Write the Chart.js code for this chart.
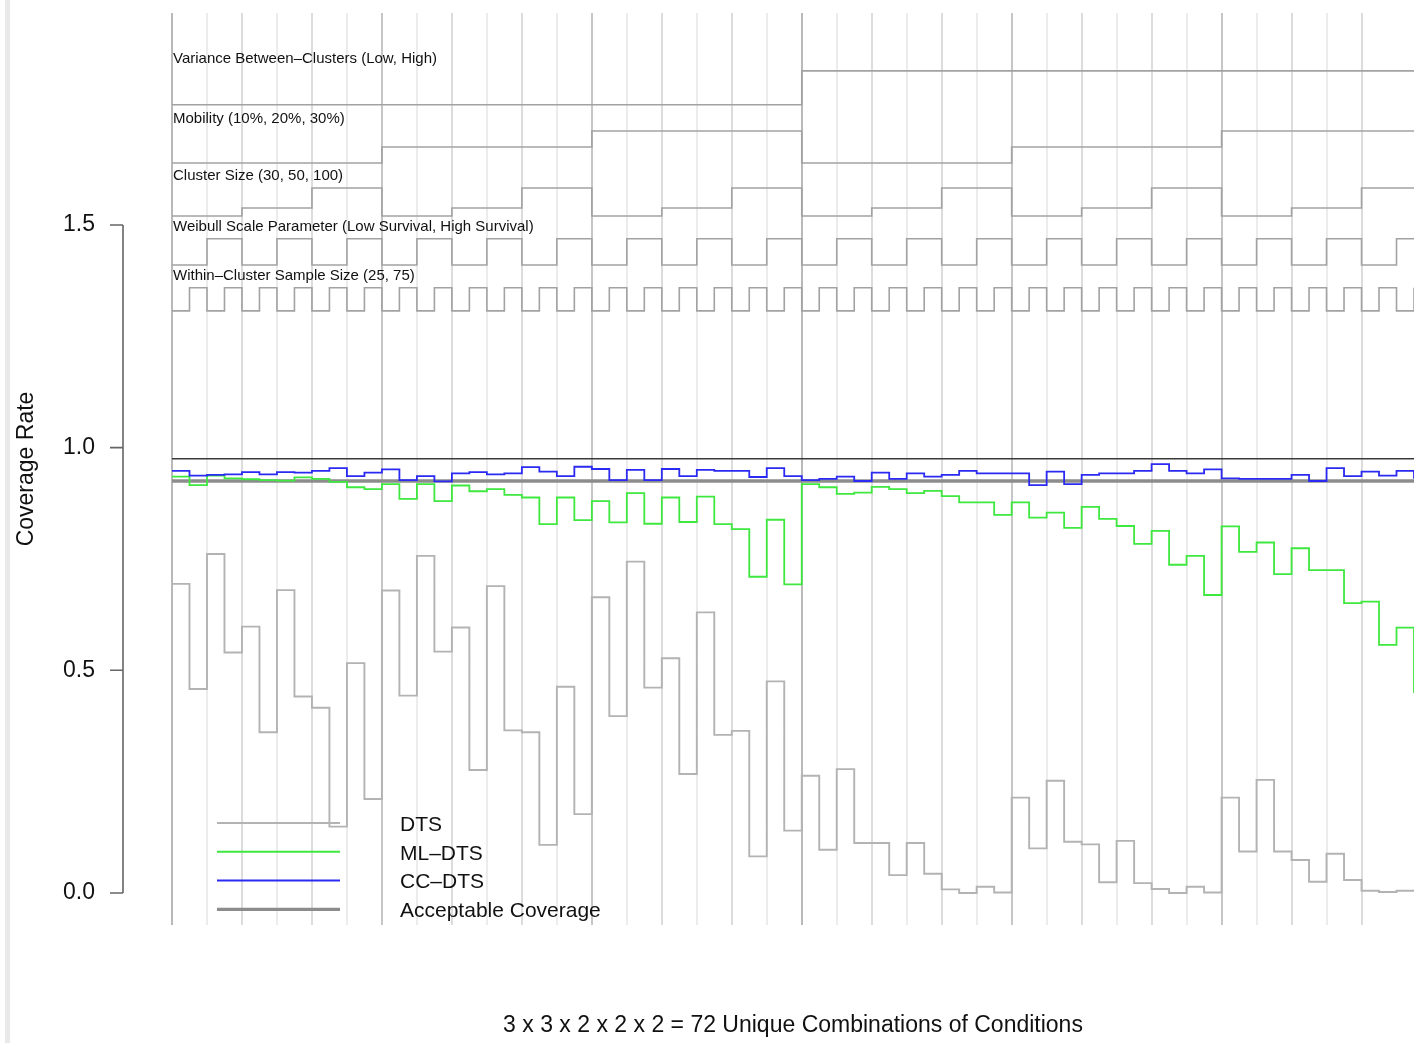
<!DOCTYPE html>
<html>
<head>
<meta charset="utf-8">
<script src="https://cdn.jsdelivr.net/npm/chart.js@4.4.1/dist/chart.umd.min.js"></script>
<style>
  html, body { margin: 0; padding: 0; background: #fff; }
  #wrap { position: relative; width: 1416px; height: 1043px; }
  #edge { position: absolute; left: 5px; top: 0; width: 5px; height: 1043px; background: #e9e9e9; }
  #c { position: absolute; left: 0; top: 0; }
</style>
</head>
<body>
<div id="wrap">
  <div id="edge"></div>
  <canvas id="c" width="1416" height="1043"></canvas>
</div>
<script>
// ---- Simulation design factors (outermost to innermost) ----
const varianceLevels    = [0, 1];               // Low, High
const mobilityLevels    = [10, 20, 30];         // percent
const clusterSizeLevels = [30, 50, 100];
const weibullLevels     = [0, 1];               // Low Survival, High Survival
const sampleSizeLevels  = [25, 75];

const factorLabels = [
  'Variance Between\u2013Clusters (Low, High)',
  'Mobility (10%, 20%, 30%)',
  'Cluster Size (30, 50, 100)',
  'Weibull Scale Parameter (Low Survival, High Survival)',
  'Within\u2013Cluster Sample Size (25, 75)'
];

// ---- Coverage rate per condition (72 conditions) ----
const dtsCoverage = [
  0.694, 0.458, 0.761, 0.540, 0.598, 0.361, 0.680, 0.441, 0.416, 0.149, 0.516, 0.211,
  0.679, 0.443, 0.757, 0.542, 0.596, 0.276, 0.689, 0.365, 0.361, 0.108, 0.463, 0.177,
  0.664, 0.397, 0.744, 0.461, 0.527, 0.267, 0.630, 0.355, 0.364, 0.082, 0.475, 0.140,
  0.263, 0.097, 0.278, 0.112, 0.112, 0.040, 0.112, 0.043, 0.008, 0.000, 0.014, 0.001,
  0.214, 0.100, 0.252, 0.115, 0.109, 0.024, 0.117, 0.022, 0.009, 0.000, 0.014, 0.001,
  0.214, 0.093, 0.254, 0.093, 0.074, 0.025, 0.088, 0.029, 0.005, 0.002, 0.005, 0.003
];
const mlDtsCoverage = [
  0.935, 0.916, 0.937, 0.931, 0.929, 0.927, 0.926, 0.933, 0.930, 0.923, 0.911, 0.907,
  0.918, 0.885, 0.918, 0.880, 0.915, 0.902, 0.907, 0.894, 0.888, 0.828, 0.888, 0.837,
  0.880, 0.832, 0.898, 0.829, 0.888, 0.833, 0.890, 0.828, 0.817, 0.710, 0.838, 0.693,
  0.918, 0.911, 0.896, 0.899, 0.912, 0.907, 0.898, 0.903, 0.891, 0.877, 0.877, 0.849,
  0.877, 0.843, 0.854, 0.820, 0.867, 0.840, 0.824, 0.784, 0.813, 0.737, 0.757, 0.669,
  0.823, 0.766, 0.787, 0.716, 0.774, 0.725, 0.725, 0.651, 0.654, 0.557, 0.596, 0.449
];
const ccDtsCoverage = [
  0.948, 0.937, 0.939, 0.940, 0.945, 0.940, 0.945, 0.944, 0.948, 0.954, 0.936, 0.944,
  0.951, 0.927, 0.936, 0.924, 0.942, 0.945, 0.940, 0.942, 0.956, 0.946, 0.936, 0.957,
  0.952, 0.927, 0.950, 0.927, 0.952, 0.936, 0.950, 0.948, 0.948, 0.934, 0.954, 0.936,
  0.927, 0.930, 0.935, 0.925, 0.944, 0.930, 0.942, 0.935, 0.939, 0.948, 0.942, 0.942,
  0.942, 0.916, 0.946, 0.918, 0.939, 0.942, 0.942, 0.948, 0.963, 0.948, 0.942, 0.951,
  0.931, 0.930, 0.930, 0.930, 0.939, 0.925, 0.954, 0.936, 0.946, 0.937, 0.948, 0.930
];

// Acceptable coverage band (lower, upper)
const acceptableBand = [0.925, 0.975];

const yTickValues = [0.0, 0.5, 1.0, 1.5];
const seriesNames = ['DTS', 'ML\u2013DTS', 'CC\u2013DTS', 'Acceptable Coverage'];
const xAxisTitle = '3 x 3 x 2 x 2 x 2 = 72 Unique Combinations of Conditions';
const yAxisTitle = 'Coverage Rate';

// ---- Full factorial: one entry per condition, in nesting order ----
const conditions = [];
varianceLevels.forEach(v => mobilityLevels.forEach(m => clusterSizeLevels.forEach(c =>
  weibullLevels.forEach(w => sampleSizeLevels.forEach(s =>
    conditions.push([v, m, c, w, s]))))));
const factorLevelSets = [varianceLevels, mobilityLevels, clusterSizeLevels, weibullLevels, sampleSizeLevels];

// Vertical band (in y units) where each factor's step line is drawn
const factorBands = [
  { lo: 1.770, hi: 1.846 },
  { lo: 1.639, hi: 1.711 },
  { lo: 1.520, hi: 1.583 },
  { lo: 1.410, hi: 1.469 },
  { lo: 1.307, hi: 1.359 }
];

const FONT = '"Liberation Sans", Arial, Helvetica, sans-serif';

function stepPoints(values) {
  return values.map((v, i) => ({ x: i, y: v }));
}

const factorDatasets = factorLevelSets.map((levels, f) => {
  const min = Math.min(...levels), max = Math.max(...levels);
  const band = factorBands[f];
  return {
    label: factorLabels[f],
    isFactor: true,
    data: conditions.map((cond, i) => ({
      x: i,
      y: band.lo + (cond[f] - min) / (max - min) * (band.hi - band.lo)
    })),
    borderColor: '#a2a2a2',
    borderWidth: 1.6,
    stepped: true,
    pointRadius: 0,
    order: 5
  };
});

const last = conditions.length - 1;
const datasets = [
  { label: seriesNames[2], legendIndex: 2, data: stepPoints(ccDtsCoverage),
    borderColor: '#2a2af2', borderWidth: 1.8, stepped: true, pointRadius: 0, order: 0 },
  { label: seriesNames[1], legendIndex: 1, data: stepPoints(mlDtsCoverage),
    borderColor: '#3ee83e', borderWidth: 1.8, stepped: true, pointRadius: 0, order: 1 },
  { label: seriesNames[0], legendIndex: 0, data: stepPoints(dtsCoverage),
    borderColor: '#b3b3b3', borderWidth: 1.9, stepped: true, pointRadius: 0, order: 2 },
  { label: seriesNames[3], legendIndex: 3, data: [{ x: 0, y: acceptableBand[0] }, { x: last, y: acceptableBand[0] }],
    borderColor: '#8c8c8c', borderWidth: 3.4, pointRadius: 0, order: 3 },
  { label: 'upper', data: [{ x: 0, y: acceptableBand[1] }, { x: last, y: acceptableBand[1] }],
    borderColor: '#3a3a3a', borderWidth: 1.5, pointRadius: 0, order: 3 },
  ...factorDatasets
];

function gridColor(v) {
  if (v % 2 !== 0) return 'rgba(0,0,0,0)';
  if (v % 36 === 0) return '#b9b9b9';
  if (v % 12 === 0) return '#c6c6c6';
  if (v % 4 === 0) return '#dcdcdc';
  return '#ececec';
}

// Factor names above their step lines
const factorLabelPlugin = {
  id: 'factorLabels',
  afterDatasetsDraw(chart) {
    const { ctx, scales: { x, y } } = chart;
    ctx.save();
    ctx.font = '15px ' + FONT;
    ctx.fillStyle = '#111';
    ctx.textAlign = 'left';
    ctx.textBaseline = 'middle';
    factorBands.forEach((b, i) => {
      ctx.fillText(factorLabels[i], x.getPixelForValue(0) + 1, y.getPixelForValue(b.hi) - 12);
    });
    ctx.restore();
  }
};

// Detached y axis line with tick marks
const yAxisLinePlugin = {
  id: 'yAxisLine',
  afterDraw(chart) {
    const { ctx, scales: { y } } = chart;
    const ax = 123, tick = 13;
    ctx.save();
    ctx.strokeStyle = '#666';
    ctx.lineWidth = 1.6;
    ctx.beginPath();
    ctx.moveTo(ax, y.getPixelForValue(yTickValues[0]));
    ctx.lineTo(ax, y.getPixelForValue(yTickValues[yTickValues.length - 1]));
    yTickValues.forEach(v => {
      const py = y.getPixelForValue(v);
      ctx.moveTo(ax - tick, py);
      ctx.lineTo(ax, py);
    });
    ctx.stroke();
    ctx.restore();
  }
};

// Legend drawn inside the plot, lines then names
const legendPlugin = {
  id: 'insideLegend',
  afterDatasetsDraw(chart) {
    const { ctx } = chart;
    const entries = chart.data.datasets.filter(d => d.legendIndex !== undefined)
      .sort((a, b) => a.legendIndex - b.legendIndex);
    const x0 = 217, x1 = 340, tx = 400, top = 823, gap = 28.8;
    ctx.save();
    entries.forEach((d, i) => {
      const py = top + i * gap;
      ctx.strokeStyle = d.borderColor;
      ctx.lineWidth = d.legendIndex === 3 ? 3.2 : 2;
      ctx.beginPath();
      ctx.moveTo(x0, py);
      ctx.lineTo(x1, py);
      ctx.stroke();
      ctx.font = '21px ' + FONT;
      ctx.fillStyle = '#111';
      ctx.textAlign = 'left';
      ctx.textBaseline = 'middle';
      ctx.fillText(d.label, tx, py + 2);
    });
    ctx.restore();
  }
};

new Chart(document.getElementById('c'), {
  type: 'line',
  data: { datasets },
  options: {
    responsive: false,
    animation: false,
    devicePixelRatio: 1,
    layout: { padding: { top: 13, right: 2, left: 0, bottom: 0 } },
    plugins: { legend: { display: false }, tooltip: { enabled: false } },
    scales: {
      x: {
        type: 'linear',
        min: 0,
        max: last,
        ticks: { display: false, stepSize: 2 },
        grid: {
          color: ctx => (ctx.tick ? gridColor(ctx.tick.value) : 'rgba(0,0,0,0)'),
          lineWidth: 2,
          drawTicks: false
        },
        border: { display: false },
        title: {
          display: true,
          text: xAxisTitle,
          color: '#111',
          font: { family: FONT, size: 23 },
          padding: { top: 0, bottom: 4 }
        },
        afterFit: s => { s.height = 118; s.paddingLeft = 0; s.paddingRight = 0; }
      },
      y: {
        type: 'linear',
        min: -0.072,
        max: 1.976,
        afterBuildTicks: s => { s.ticks = yTickValues.map(v => ({ value: v })); },
        ticks: {
          color: '#111',
          font: { family: FONT, size: 23 },
          padding: 77,
          callback: v => Number(v).toFixed(1)
        },
        grid: { display: false, drawTicks: false },
        border: { display: false },
        title: {
          display: true,
          text: yAxisTitle,
          color: '#111',
          font: { family: FONT, size: 23 },
          padding: { top: 13, bottom: 0 }
        },
        afterFit: s => { s.width = 172; s.paddingTop = 0; s.paddingBottom = 0; }
      }
    }
  },
  plugins: [factorLabelPlugin, yAxisLinePlugin, legendPlugin]
});
</script>
</body>
</html>
